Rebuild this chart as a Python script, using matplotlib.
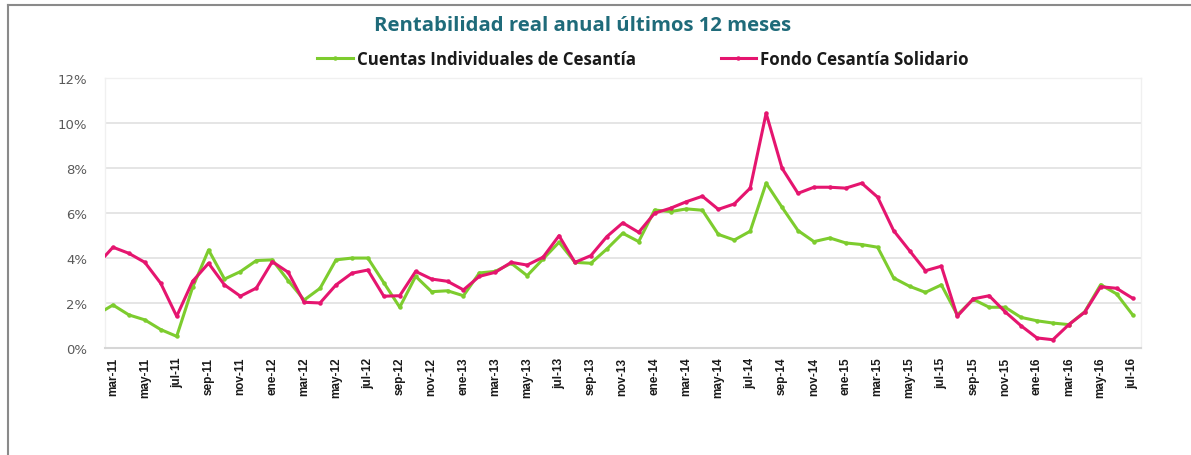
import matplotlib
matplotlib.use("Agg")
import matplotlib.pyplot as plt
from matplotlib.lines import Line2D
from matplotlib.ticker import FuncFormatter, MultipleLocator

# ---------------- data ----------------
months_es = ["ene", "feb", "mar", "abr", "may", "jun", "jul", "ago", "sep", "oct", "nov", "dic"]
# feb-11 (partly clipped at left edge) through jul-16
labels = []
for yr in range(11, 17):
    for m in range(12):
        labels.append(f"{months_es[m]}-{yr}")
labels = labels[1:labels.index("jul-16") + 1]

cuentas_individuales = [
    1.50,                                                   # feb-11
    1.92, 1.48, 1.26, 0.83, 0.53, 2.70, 4.36, 3.07, 3.40, 3.89,   # mar-11 .. dic-11
    3.92, 3.00, 2.14, 2.66, 3.92, 4.00, 4.00, 2.91, 1.82, 3.19, 2.51, 2.55,  # 2012
    2.33, 3.34, 3.41, 3.77, 3.22, 3.96, 4.70, 3.81, 3.77, 4.40, 5.10, 4.73,  # 2013
    6.13, 6.06, 6.18, 6.12, 5.05, 4.80, 5.19, 7.32, 6.25, 5.22, 4.73, 4.89,  # 2014
    4.67, 4.60, 4.48, 3.12, 2.75, 2.48, 2.81, 1.48, 2.17, 1.82, 1.82, 1.37,  # 2015
    1.22, 1.12, 1.05, 1.62, 2.82, 2.41, 1.49,                                # 2016
]
fondo_solidario = [
    3.70,                                                   # feb-11
    4.48, 4.21, 3.81, 2.88, 1.42, 2.97, 3.77, 2.81, 2.31, 2.67,   # mar-11 .. dic-11
    3.84, 3.37, 2.04, 2.01, 2.81, 3.33, 3.47, 2.31, 2.33, 3.41, 3.07, 2.97,  # 2012
    2.59, 3.19, 3.37, 3.81, 3.69, 4.04, 4.99, 3.81, 4.11, 4.95, 5.56, 5.14,  # 2013
    5.99, 6.21, 6.50, 6.74, 6.16, 6.40, 7.10, 10.42, 7.98, 6.87, 7.14, 7.14,  # 2014
    7.10, 7.32, 6.70, 5.22, 4.33, 3.44, 3.64, 1.42, 2.19, 2.33, 1.62, 1.00,  # 2015
    0.46, 0.38, 1.05, 1.60, 2.73, 2.66, 2.22,                                # 2016
]
series_names = ["Cuentas Individuales de Cesantía", "Fondo Cesantía Solidario"]
title = "Rentabilidad real anual últimos 12 meses"

# ---------------- figure ----------------
W, H = 1191, 456
fig = plt.figure(figsize=(W / 100, H / 100), dpi=100)
fig.patch.set_facecolor("white")

ax = fig.add_axes([105 / W, 1 - 349.3 / H, (1140.5 - 105) / W, (349.3 - 78.6) / H])

# x positions: mar-11 = 0
xs = list(range(-1, len(labels) - 1))

green = "#7DCC2E"
pink = "#E5156F"

ax.plot(xs, cuentas_individuales, color=green, lw=2.2, marker="o", ms=2.2,
        solid_joinstyle="round", label=series_names[0], zorder=3)
ax.plot(xs, fondo_solidario, color=pink, lw=2.2, marker="o", ms=2.2,
        solid_joinstyle="round", label=series_names[1], zorder=4)

ax.set_xlim(-0.5, len(labels) - 1.5)
ax.set_ylim(0, 12)
ax.yaxis.set_major_locator(MultipleLocator(2))
ax.yaxis.set_major_formatter(FuncFormatter(lambda v, p: f"{v:.0f}%"))
ax.grid(axis="y", color="#E3E3E3", lw=1.3)
ax.set_axisbelow(True)

tick_pos = xs[1::2]
tick_lab = labels[1::2]
ax.set_xticks(tick_pos)
ax.set_xticklabels(tick_lab, rotation=90, fontsize=8.5, fontweight="bold",
                   family=["Liberation Sans Narrow", "Liberation Sans", "DejaVu Sans"],
                   color="#1a1a1a", va="top", ha="center")
ax.tick_params(axis="x", length=0, pad=6)
ax.tick_params(axis="y", length=0, pad=13, labelsize=9.5, labelcolor="#595959")
for lab in ax.get_yticklabels():
    lab.set_family(["DejaVu Sans"])

for s in ["top", "right", "left"]:
    ax.spines[s].set_color("#F0F0F0")
    ax.spines[s].set_linewidth(1.0)
ax.spines["bottom"].set_color("#D6D6D6")
ax.spines["bottom"].set_linewidth(1.5)

# title
fig.text(583 / W, 1 - 26 / H, title, ha="center", va="center",
         fontsize=14.6, fontweight="bold", color="#1F6B7A",
         family=["Open Sans", "DejaVu Sans"])

# legend
leg = fig.legend(handles=[
    Line2D([], [], color=green, lw=2.2, marker="o", ms=2.2, markevery=[1]),
    Line2D([], [], color=pink, lw=2.2, marker="o", ms=2.2, markevery=[1]),
], labels=series_names, loc="center", bbox_to_anchor=(643 / W, 1 - 60 / H),
    ncol=2, frameon=False, handlelength=2.1, handletextpad=0.25, columnspacing=5.0,
    prop={"family": ["Open Sans", "DejaVu Sans"], "weight": "bold", "size": 12.2})
for t in leg.get_texts():
    t.set_color("#1a1a1a")

# outer border lines (top and left)
fig.add_artist(Line2D([8 / W, 1], [1 - 6.3 / H, 1 - 6.3 / H], transform=fig.transFigure,
                      color="#8A8A8A", lw=1.5))
fig.add_artist(Line2D([8 / W, 8 / W], [0, 1 - 6.3 / H], transform=fig.transFigure,
                      color="#8A8A8A", lw=1.5))

fig.savefig("out.png", dpi=100, facecolor="white")
